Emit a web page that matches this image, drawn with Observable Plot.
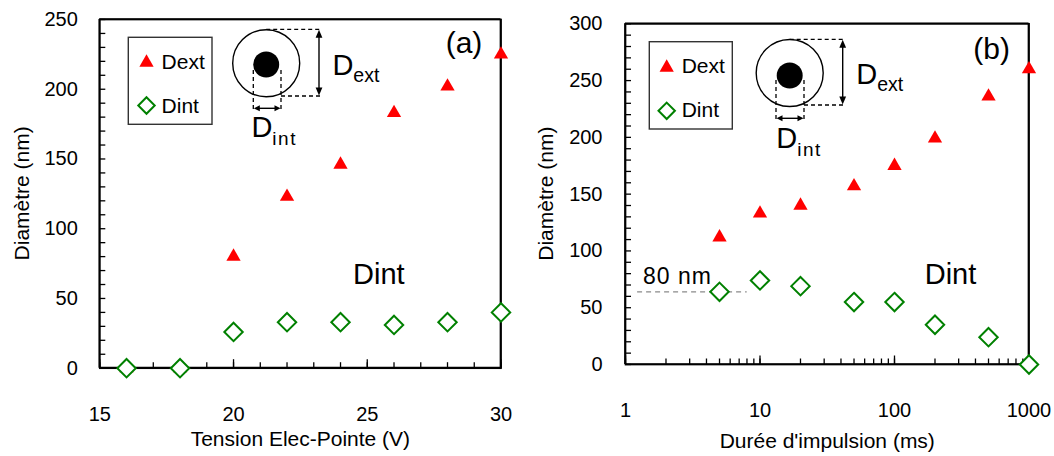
<!DOCTYPE html>
<html>
<head>
<meta charset="utf-8">
<script src="https://cdn.jsdelivr.net/npm/d3@7"></script>
<script src="https://cdn.jsdelivr.net/npm/@observablehq/plot@0.6"></script>
<style>
  html, body { margin: 0; padding: 0; background: #fff; }
  #wrap { display: flex; width: 1054px; height: 456px; overflow: hidden; }
  #wrap svg { overflow: visible; display: block; }
</style>
</head>
<body>
<div id="wrap"></div>
<script>
// ---------- DATA ----------
// Panel (a): diameter vs tip-electrode voltage
const voltage      = [16, 18, 20, 22, 24, 26, 28, 30];
const dextVoltage  = [0, 0, 80, 123, 146, 183, 202, 225];
const dintVoltage  = [0, 0, 26, 33, 33, 31, 33, 40];
const voltageTicks = [15, 20, 25, 30];
const diamTicksA   = [0, 50, 100, 150, 200, 250];

// Panel (b): diameter vs pulse duration (log axis)
const duration      = [5, 10, 20, 50, 100, 200, 500, 1000];
const dextDuration  = [112, 133, 140, 157, 175, 199, 236, 260];
const dintDuration  = [64, 74, 69, 55, 55, 35, 24, 0];
const durationTicks = [1, 10, 100, 1000];
const diamTicksB    = [0, 50, 100, 150, 200, 250, 300];
const ref80 = [{x1: 1.23, x2: 8.03, y: 64}];

const seriesNames = ["Dext", "Dint"];
const labelsA = {x: "Tension Elec-Pointe (V)", y: "Diamètre (nm)", tag: "(a)"};
const labelsB = {x: "Durée d'impulsion (ms)", y: "Diamètre (nm)", tag: "(b)", ref: "80 nm"};

// ---------- STYLE ----------
const FONT = "Liberation Sans";
const RED = "#ff0000", GREEN = "#008000";
const TRI_R = 5.3, DIA_R = 8.3, LEG_DIA_R = 7.4;

function minorLog(lo, hi) {
  const t = [];
  for (let d = lo; d < hi; d *= 10) for (let k = 1; k < 10; k++) t.push(d * k);
  t.push(hi);
  return t;
}

function buildPanel(cfg) {
  const rows = cfg.xs.map((x, i) => ({x, dext: cfg.dext[i], dint: cfg.dint[i]}));
  const marks = [
    Plot.frame({stroke: "#000", strokeWidth: 1.7}),
    Plot.axisX(cfg.xMinor, {tickSize: -5.5, text: null, strokeWidth: 1.3, label: null}),
    Plot.axisX(cfg.xTicks, {tickSize: -8.5, text: null, strokeWidth: 1.3, label: null}),
    Plot.axisX(cfg.xTicks, {tickSize: 0, tickPadding: cfg.xPad, fontSize: 20, tickFormat: d => `${d}`, label: null}),
    Plot.axisY(cfg.yMinor, {tickSize: -6, text: null, strokeWidth: 1.3, label: null}),
    Plot.axisY(cfg.yTicks, {tickSize: 0, tickPadding: cfg.yPad, fontSize: 20, tickFormat: d => `${d}`, label: null})
  ];
  if (cfg.ref) {
    marks.push(Plot.ruleY(cfg.ref, {y: "y", x1: "x1", x2: "x2", stroke: "#8a8a8a", strokeWidth: 1.3, strokeDasharray: "5,4"}));
  }
  marks.push(
    Plot.dot(rows, {x: "x", y: "dext", symbol: "triangle", r: TRI_R, fill: RED, stroke: "none"}),
    Plot.dot(rows, {x: "x", y: "dint", symbol: "diamond2", r: DIA_R, fill: "#fff", stroke: GREEN, strokeWidth: 2}),
    Plot.text([cfg.labels.x], {frameAnchor: "bottom", dy: cfg.xLabelDy, fontSize: 21, lineAnchor: "middle", fill: "#000"})
  );
  return Plot.plot({
    width: cfg.width, height: 456,
    marginLeft: cfg.ml, marginRight: cfg.mr, marginTop: cfg.mt, marginBottom: cfg.mb,
    style: {fontFamily: FONT, fontSize: "20px", color: "#000", background: "#fff", overflow: "visible"},
    x: cfg.xScale,
    y: {domain: cfg.yDomain, label: null},
    marks
  });
}

function arrowHead(g, x, y, dir, len, half) {
  let p;
  if (dir === "up") p = [[x, y], [x - half, y + len], [x + half, y + len]];
  if (dir === "down") p = [[x, y], [x - half, y - len], [x + half, y - len]];
  if (dir === "left") p = [[x, y], [x + len, y - half], [x + len, y + half]];
  if (dir === "right") p = [[x, y], [x - len, y - half], [x - len, y + half]];
  g.append("path").attr("d", "M" + p.map(q => q.join(",")).join("L") + "Z").attr("fill", "#000");
}

function annotate(svg, cfg, o) {
  const g = d3.select(svg).append("g").attr("font-family", FONT).attr("fill", "#000").attr("text-anchor", "start");
  // frame edges as plain lines (same kind of element as the schematic lines)
  const L = cfg.ml, R = cfg.width - cfg.mr, T = cfg.mt, B = 456 - cfg.mb;
  const edge = (x1, y1, x2, y2) => g.append("line").attr("x1", x1).attr("y1", y1).attr("x2", x2).attr("y2", y2)
    .attr("stroke", "#000").attr("stroke-width", 1.7);
  edge(L, T, R, T); edge(R, T, R, B); edge(L, B, R, B); edge(L, T, L, B);

  // rotated y-axis title
  g.append("text").attr("transform", `translate(${cfg.ml + cfg.yLabelDx},${(T + B) / 2}) rotate(-90)`)
    .attr("text-anchor", "middle").attr("dy", "0.32em").attr("font-size", 21).text(cfg.labels.y);

  // legend
  g.append("rect").attr("x", o.leg.x).attr("y", o.leg.y).attr("width", o.leg.w).attr("height", o.leg.h)
    .attr("fill", "#fff").attr("stroke", "#333").attr("stroke-width", 1.4);
  g.append("path").attr("transform", `translate(${o.leg.sx},${o.leg.triY})`)
    .attr("d", d3.symbol(d3.symbolTriangle, Math.PI * TRI_R * TRI_R)()).attr("fill", RED);
  g.append("path").attr("transform", `translate(${o.leg.sx},${o.leg.diaY})`)
    .attr("d", d3.symbol(d3.symbolDiamond2, Math.PI * LEG_DIA_R * LEG_DIA_R)())
    .attr("fill", "none").attr("stroke", GREEN).attr("stroke-width", 2);
  g.append("text").attr("x", o.leg.tx).attr("y", o.leg.t1).attr("font-size", 21).text(seriesNames[0]);
  g.append("text").attr("x", o.leg.tx).attr("y", o.leg.t2).attr("font-size", 21).text(seriesNames[1]);

  // ring schematic
  const s = o.sch;
  g.append("circle").attr("cx", s.cx).attr("cy", s.cy).attr("r", s.R).attr("fill", "none").attr("stroke", "#000").attr("stroke-width", 1.4);
  g.append("circle").attr("cx", s.cx).attr("cy", s.icy).attr("r", s.r).attr("fill", "#000");
  const dash = (x1, y1, x2, y2) => g.append("line").attr("x1", x1).attr("y1", y1).attr("x2", x2).attr("y2", y2)
    .attr("stroke", "#000").attr("stroke-width", 1.3).attr("stroke-dasharray", "4,3");
  dash(s.vxL, s.vTop, s.vxL, s.vBot);
  dash(s.vxR, s.vTop, s.vxR, s.vBot);
  dash(s.cx, s.topY, s.arrX + 2, s.topY);
  dash(s.vxR, s.botY, s.arrX + 2, s.botY);
  g.append("line").attr("x1", s.arrX).attr("y1", s.topY + 5).attr("x2", s.arrX).attr("y2", s.botY - 5).attr("stroke", "#000").attr("stroke-width", 1.4);
  arrowHead(g, s.arrX, s.topY + 0.5, "up", 8, 3.4);
  arrowHead(g, s.arrX, s.botY - 0.5, "down", 8, 3.4);
  g.append("line").attr("x1", s.vxL + 4).attr("y1", s.hY).attr("x2", s.vxR - 4).attr("y2", s.hY).attr("stroke", "#000").attr("stroke-width", 1.4);
  arrowHead(g, s.vxL + 0.5, s.hY, "left", 6, 3);
  arrowHead(g, s.vxR - 0.5, s.hY, "right", 6, 3);
  const t1 = g.append("text").attr("x", s.dextX).attr("y", s.dextY).attr("font-size", 29).text("D");
  t1.append("tspan").attr("font-size", 19.5).attr("dy", 7).text("ext");
  const t2 = g.append("text").attr("x", s.dintX).attr("y", s.dintY).attr("font-size", 29).text("D");
  t2.append("tspan").attr("font-size", 19).attr("dy", 7.5).attr("letter-spacing", 1.5).text("int");

  g.append("text").attr("x", o.tag.x).attr("y", o.tag.y).attr("font-size", 30).attr("text-anchor", "middle").text(o.tag.text);
  g.append("text").attr("x", o.dint.x).attr("y", o.dint.y).attr("font-size", 29).text(seriesNames[1]);
  if (o.ref) {
    g.append("text").attr("x", o.ref.x).attr("y", o.ref.y).attr("font-size", 23).attr("letter-spacing", 1).text(o.ref.text);
  }
  // keep data markers on top
  svg.querySelectorAll('g[aria-label="dot"]').forEach(n => svg.appendChild(n));
}

const wrap = document.getElementById("wrap");

// ---------- Panel (a) ----------
const cfgA = {
  width: 530, ml: 99.3, mr: 29.5, mt: 19, mb: 88.3,
  xs: voltage, dext: dextVoltage, dint: dintVoltage,
  xScale: {domain: [15, 30], label: null},
  yDomain: [0, 250],
  xTicks: voltageTicks, xMinor: d3.range(15, 31, 1),
  yTicks: diamTicksA, yMinor: d3.range(0, 251, 10),
  xPad: 39, yPad: 22,
  xLabelDy: 71, yLabelDx: -77.3,
  labels: labelsA
};
const svgA = buildPanel(cfgA);
wrap.appendChild(svgA);
annotate(svgA, cfgA, {
  leg: {x: 128.3, y: 37.3, w: 83.7, h: 87, sx: 146.5, triY: 62.6, diaY: 105.5, tx: 161.6, t1: 69.3, t2: 113.3},
  sch: {cx: 266.2, cy: 63.3, R: 33.5, icy: 64.5, r: 13, vxL: 253.3, vxR: 281, vTop: 70, vBot: 109.3,
        topY: 29.3, botY: 96, arrX: 319, hY: 108.3, dextX: 332.4, dextY: 75, dintX: 251.4, dintY: 137.3},
  tag: {x: 464, y: 53.3, text: labelsA.tag},
  dint: {x: 353, y: 284.3}
});

// ---------- Panel (b) ----------
const cfgB = {
  width: 524, ml: 95, mr: 25.5, mt: 23.3, mb: 92,
  xs: duration, dext: dextDuration, dint: dintDuration,
  xScale: {type: "log", domain: [1, 1000], label: null},
  yDomain: [0, 300],
  xTicks: durationTicks, xMinor: minorLog(1, 1000),
  yTicks: diamTicksB, yMinor: d3.range(0, 301, 10),
  xPad: 38, yPad: 23,
  xLabelDy: 77, yLabelDx: -78.5,
  labels: labelsB,
  ref: ref80
};
const svgB = buildPanel(cfgB);
wrap.appendChild(svgB);
annotate(svgB, cfgB, {
  leg: {x: 119.3, y: 41.7, w: 83, h: 87.3, sx: 136.7, triY: 67.6, diaY: 110.8, tx: 151.7, t1: 73.3, t2: 117.3},
  sch: {cx: 259.7, cy: 73, R: 33.5, icy: 75.5, r: 13, vxL: 246, vxR: 274, vTop: 80, vBot: 120,
        topY: 39.3, botY: 105, arrX: 312.7, hY: 118.3, dextX: 326.3, dextY: 84, dintX: 246.3, dintY: 148.3},
  tag: {x: 461.7, y: 59.3, text: labelsB.tag},
  dint: {x: 394.7, y: 284.3},
  ref: {x: 113, y: 284, text: labelsB.ref}
});
</script>
</body>
</html>
